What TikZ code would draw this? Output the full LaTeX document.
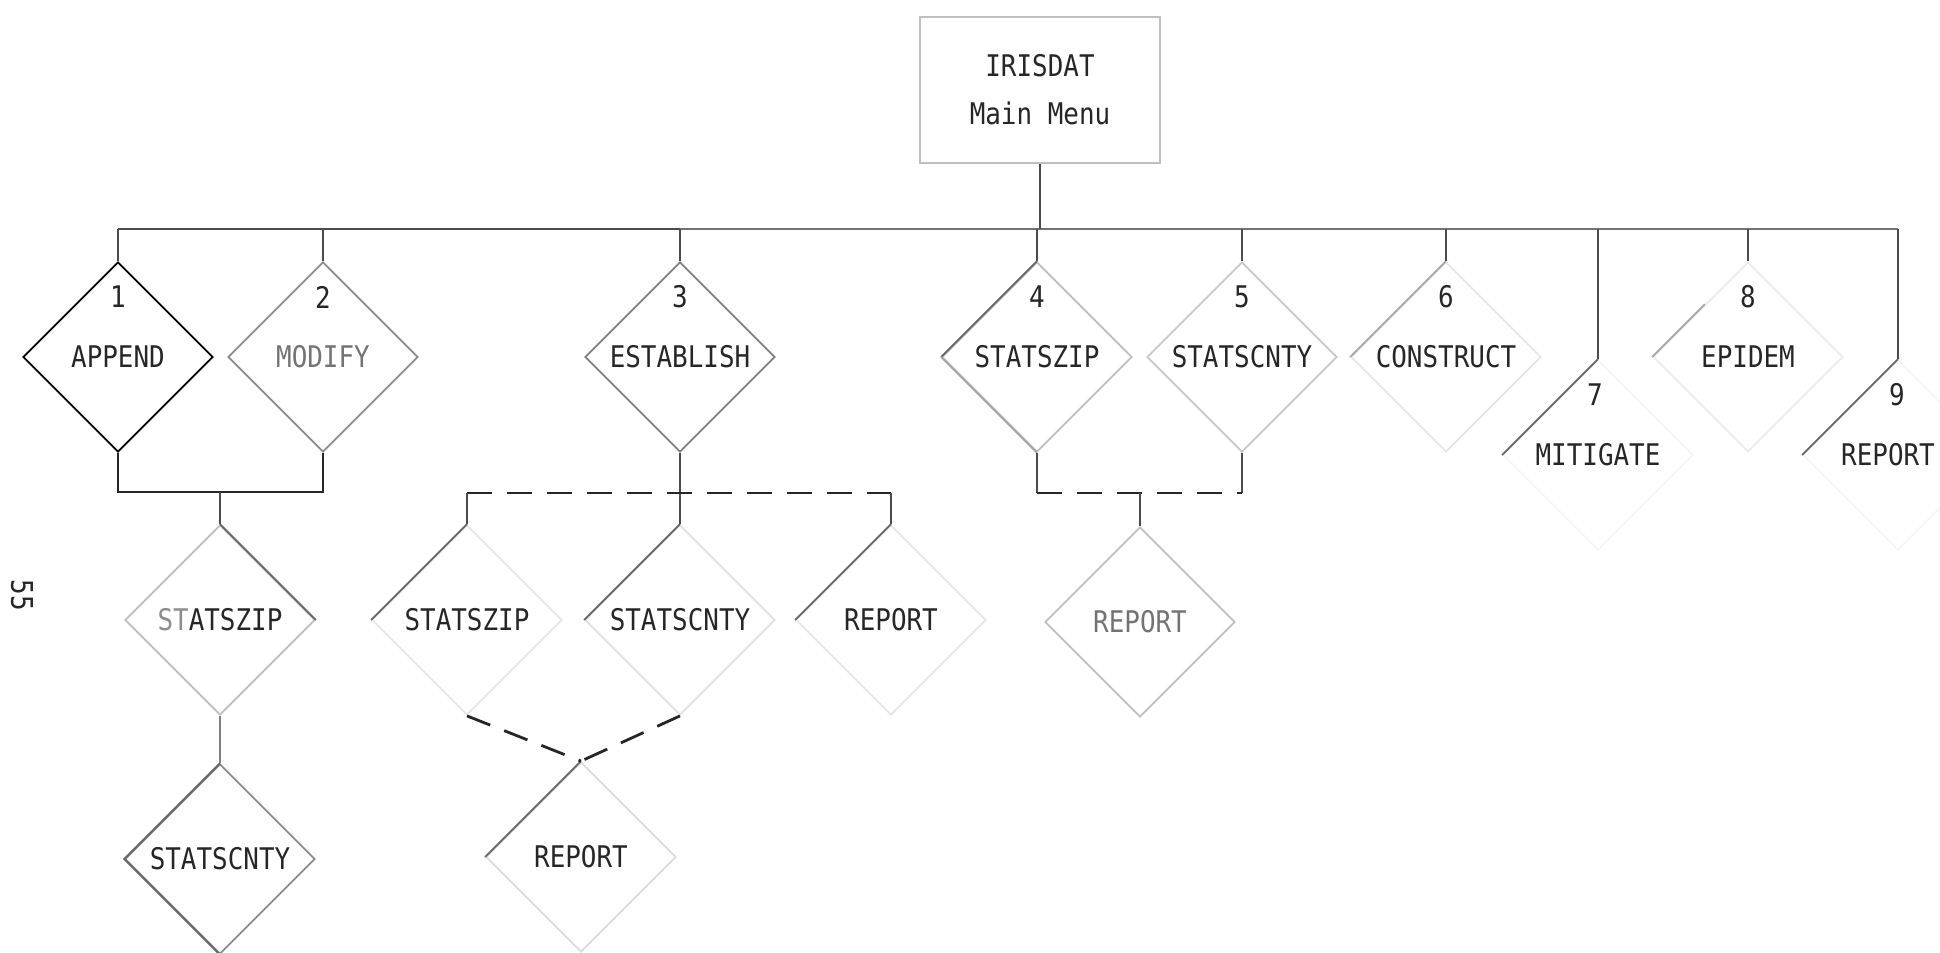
\documentclass[tikz,border=0pt]{standalone}
\usepackage{fontspec}
\newfontfamily\tw[FakeStretch=0.87]{DejaVu Sans Mono}
\newcommand\diafont{\tw\fontsize{14.9pt}{18pt}\selectfont}
\usetikzlibrary{shapes.geometric,calc}
\tikzset{
  dia/.style={diamond, aspect=1, minimum width=95pt, minimum height=95pt,
    inner sep=0pt, draw=#1, line width=0.9pt, text=black!85, font=\diafont},
  dia/.default=black!40,
  num/.style={font=\diafont, text=black!85},
  conn/.style={draw=black!70, line width=0.9pt},
  busline/.style={draw=black!55, line width=0.9pt},
  edgeA/.style={draw=black!60, line width=0.9pt},
  edgeB/.style={draw=black!35, line width=0.9pt},
  dashconn/.style={draw=black!85, line width=1.4pt, dash pattern=on 12.5pt off 7.5pt},
  menubox/.style={draw=black!25, line width=0.8pt, minimum width=120pt,
    minimum height=73pt, align=center, font=\diafont, text=black!85},
}
\begin{document}
\begin{tikzpicture}[x=0.5pt, y=-0.5pt]
\useasboundingbox (0,0) rectangle (1940,953);

% main menu
\node[menubox] (menu) at (1040,90) {IRISDAT\\[6pt]Main Menu};

% first level diamonds
\node[dia=black] (d1) at (118,357) {APPEND};
\node[dia=black!45, text=black!55] (d2) at (323,357) {MODIFY};
\node[dia=black!50] (d3) at (680,357) {ESTABLISH};
\node[dia=black!25] (d4) at (1037,357) {STATSZIP};
\node[dia=black!22] (d5) at (1242,357) {STATSCNTY};
\node[dia=black!10] (d6) at (1446,357) {CONSTRUCT};
\node[dia=black!4] (d7) at (1598,455) {MITIGATE};
\node[dia=black!8] (d8) at (1748,357) {EPIDEM};
\node[dia=black!4] (d9) at (1898,455) {\hspace*{-10pt}REPORT};

% numbers
\path (d1) ++(0,-60) node[num] (n1) {1};
\path (d2) ++(0,-60) node[num] (n2) {2};
\path (d3) ++(0,-60) node[num] (n3) {3};
\path (d4) ++(0,-60) node[num] (n4) {4};
\path (d5) ++(0,-60) node[num] (n5) {5};
\path (d6) ++(0,-60) node[num] (n6) {6};
\path (d7) ++(-3,-60) node[num] (n7) {7};
\path (d8) ++(0,-60) node[num] (n8) {8};
\path (d9) ++(-1,-60) node[num] (n9) {9};

% emphasised (visible) edges of faded diamonds
\draw[edgeA] (d4.north) -- (d4.west);
\draw[edgeB] (d4.west) -- (d4.south);
\draw[edgeB] (d6.north) -- (d6.west);
\draw[edgeB] ($(d8.north)!0.45!(d8.west)$) -- (d8.west);
\draw[edgeA] (d7.north) -- (d7.west);
\draw[edgeA] (d9.north) -- (d9.west);

% second level
\node[dia=black!25] (d1a) at (220,620) {\textcolor{black!45}{ST}ATSZIP};
\node[dia=black!45] (d1b) at (220,859) {STATSCNTY};
\node[dia=black!10] (d3a) at (467,620) {STATSZIP};
\node[dia=black!12] (d3b) at (680,620) {STATSCNTY};
\node[dia=black!10] (d3c) at (891,620) {REPORT};
\node[dia=black!14] (d3d) at (581,857) {REPORT};
\node[dia=black!25, text=black!55] (d45) at (1140,622) {REPORT};

\draw[edgeA] (d1a.north) -- (d1a.east);
\draw[edgeA] (d1b.north) -- (d1b.west) -- (d1b.south);
\draw[edgeA] (d3a.north) -- (d3a.west);
\draw[edgeA] (d3b.north) -- (d3b.west);
\draw[edgeA] (d3c.north) -- (d3c.west);
\draw[edgeA] (d3d.north) -- (d3d.west);

% page number
\node[rotate=-90, font=\diafont, text=black!85] (pg) at (22,595) {55};

% bus
\coordinate (busy) at (0,229);
\coordinate (brk) at (0,492);
\draw[busline] (d1.north |- busy) -- (d9.north |- busy);
\draw[conn] (d1.north |- busy) -- (d3.north |- busy);
\draw[conn] (menu.south) -- (menu.south |- busy);
\foreach \n in {d1,d2,d3,d4,d5,d6,d7,d8,d9}
  \draw[conn] (\n.north |- busy) -- (\n.north);

% bracket under APPEND / MODIFY
\coordinate (j12) at (220,492);
\draw[conn, draw=black!85] (d1.south) -- (d1.south |- brk) -- (d2.south |- brk) -- (d2.south);
\draw[conn] (j12) -- (d1a.north);
\draw[conn, draw=black!50] (d1a.south) -- (d1b.north);

% dashed bracket under ESTABLISH
\coordinate (j3) at (680,493);
\draw[conn] (d3.south) -- (j3) -- (d3b.north);
\draw[dashconn] (d3a.north |- j3) -- (d3c.north |- j3);
\draw[conn] (d3a.north |- j3) -- (d3a.north);
\draw[conn] (d3c.north |- j3) -- (d3c.north);
\draw[dashconn] (d3a.south) -- (d3d.north);
\draw[dashconn] (d3b.south) -- (d3d.north);

% dashed bracket under STATSZIP / STATSCNTY
\coordinate (j45) at (1140,493);
\draw[conn] (d4.south) -- (d4.south |- j45);
\draw[conn] (d5.south) -- (d5.south |- j45);
\draw[dashconn] (d4.south |- j45) -- (d5.south |- j45);
\draw[conn] (j45) -- (d45.north);
\end{tikzpicture}
\end{document}
